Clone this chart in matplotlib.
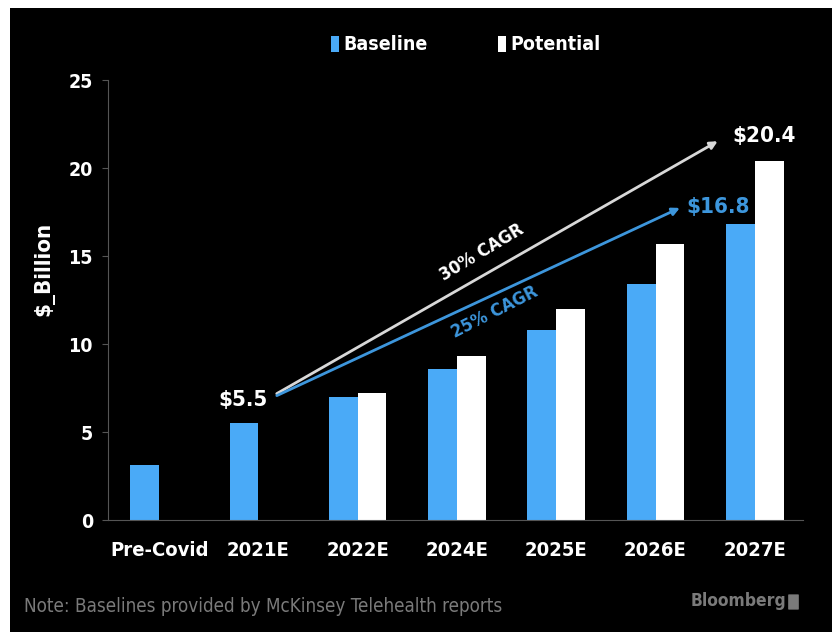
import matplotlib.pyplot as plt
import matplotlib.patches as mpatches
import numpy as np

categories = ["Pre-Covid", "2021E", "2022E", "2024E", "2025E", "2026E", "2027E"]
baseline = [3.1, 5.5, 7.0, 8.6, 10.8, 13.4, 16.8]
potential = [np.nan, np.nan, 7.2, 9.3, 12.0, 15.7, 20.4]

blue = "#4aaaf7"
plt.rcParams["font.family"] = ["DejaVu Sans"]
plt.rcParams["font.stretch"] = "condensed"

fig = plt.figure(figsize=(8.32, 6.32), dpi=100, facecolor="white")
fig.patches.append(mpatches.Rectangle((10 / 832, 0), 1, 1 - 8 / 632,
                                      transform=fig.transFigure,
                                      facecolor="black", zorder=-10))

ax = fig.add_axes([108 / 832, 1 - 520 / 632, 695 / 832, 440 / 632])
ax.set_facecolor("black")

x = np.arange(len(categories))
w = 0.29
ax.bar(x - w / 2, baseline, w, color=blue, label="Baseline")
ax.bar(x + w / 2, potential, w, color="white", label="Potential")

ax.set_xlim(-0.515, 6.485)
ax.set_ylim(0, 25)
ax.set_yticks([0, 5, 10, 15, 20, 25])
ax.set_xticks(x)
ax.set_xticklabels(categories)
for s in ["top", "right"]:
    ax.spines[s].set_visible(False)
for s in ["left", "bottom"]:
    ax.spines[s].set_color("#555555")
ax.tick_params(axis="y", colors="#555555", labelcolor="white", length=4,
               labelsize=14, pad=6.8)
ax.tick_params(axis="x", length=0, labelcolor="white", labelsize=14.5, pad=15)
for lab in ax.get_xticklabels() + ax.get_yticklabels():
    lab.set_fontweight("bold")

ax.set_ylabel("$_Billion", color="white", fontsize=16, fontweight="bold")
ax.yaxis.set_label_coords(-0.077, 0.57)

# CAGR arrows and labels
ax.annotate("", xy=(5.65, 21.6), xytext=(1.16, 7.1),
            arrowprops=dict(arrowstyle="-|>", color="#d8d8d8", lw=2,
                            mutation_scale=11))
ax.annotate("", xy=(5.27, 17.8), xytext=(1.16, 7.0),
            arrowprops=dict(arrowstyle="-|>", color="#3d96dc", lw=2,
                            mutation_scale=11))
ax.text(3.25, 15.2, "30% CAGR", color="white", fontsize=13, fontweight="bold",
        rotation=31, ha="center", va="center")
ax.text(3.38, 11.8, "25% CAGR", color="#3d96dc", fontsize=13,
        fontweight="bold", rotation=27, ha="center", va="center")
ax.text(0.84, 6.8, "$5.5", color="white", fontsize=16, fontweight="bold",
        ha="center", va="center")
ax.text(6.09, 21.8, "$20.4", color="white", fontsize=16, fontweight="bold",
        ha="center", va="center")
ax.text(5.63, 17.8, "$16.8", color="#3d96dc", fontsize=16, fontweight="bold",
        ha="center", va="center")

leg = ax.legend(loc="center", bbox_to_anchor=(0.515, 1.08), ncol=2,
                frameon=False, handlelength=0.4, handleheight=0.9,
                handletextpad=0.25, columnspacing=3.6,
                prop=dict(family="DejaVu Sans", stretch="condensed",
                          weight="bold", size=14))
for t in leg.get_texts():
    t.set_color("white")

fig.text(24 / 832, 1 - 606 / 632, "Note: Baselines provided by McKinsey Telehealth reports",
         color="#7a7a7a", fontsize=13.5, ha="left", va="center")
fig.text(786 / 832, 1 - 601 / 632, "Bloomberg", color="#7a7a7a", fontsize=12.5,
         fontweight="semibold", ha="right", va="center")
fig.patches.append(mpatches.FancyBboxPatch((789 / 832, 1 - 609 / 632), 9 / 832, 14 / 632,
                                           boxstyle="round,pad=0.001",
                                           transform=fig.transFigure,
                                           facecolor="#7a7a7a", edgecolor="none"))

fig.savefig("out.png", dpi=100, facecolor=fig.get_facecolor())
